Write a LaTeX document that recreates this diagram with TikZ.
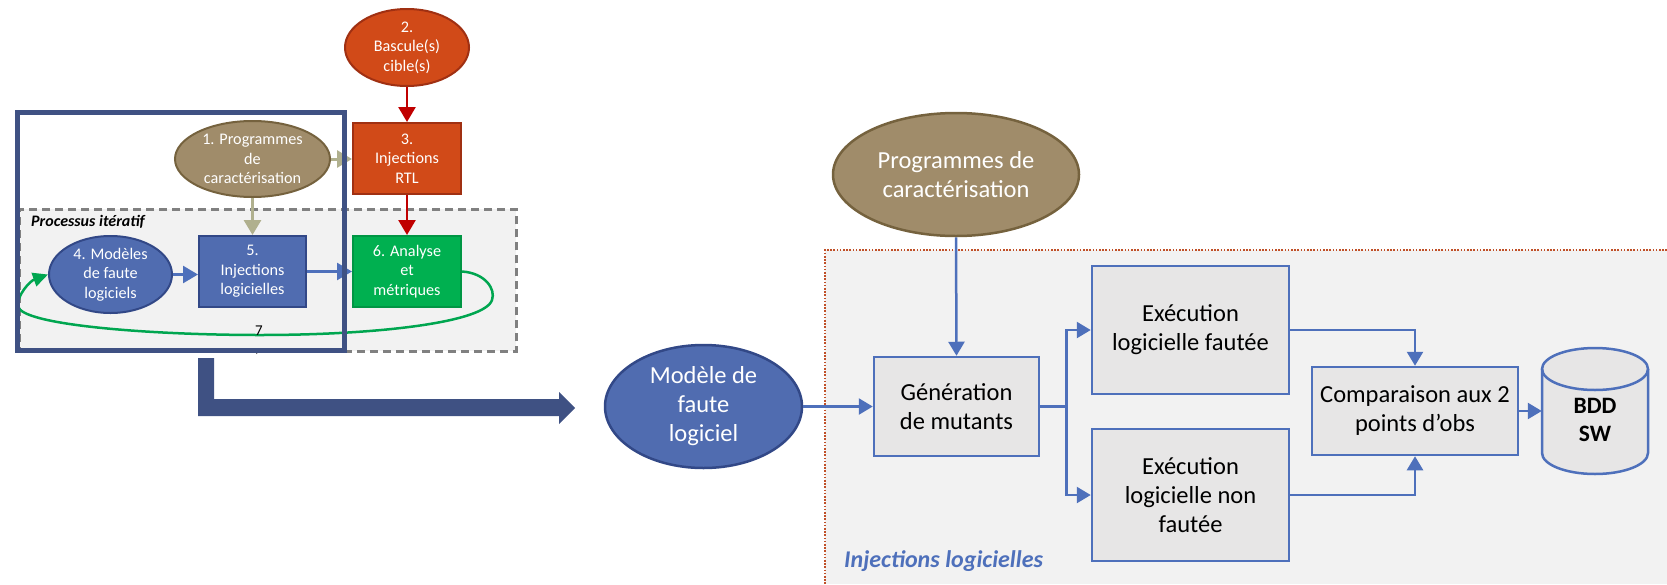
\documentclass[tikz,border=0pt]{standalone}
\usepackage{fontspec}
\setmainfont{Carlito}
\usetikzlibrary{arrows.meta,shapes.geometric,calc}

\definecolor{tanfill}{RGB}{160,140,106}
\definecolor{tanline}{RGB}{117,98,62}
\definecolor{tanarrow}{RGB}{176,176,142}
\definecolor{rustfill}{RGB}{209,74,24}
\definecolor{rustline}{RGB}{160,48,18}
\definecolor{redarrow}{RGB}{192,0,0}
\definecolor{bluefill}{RGB}{80,108,176}
\definecolor{blueline}{RGB}{50,72,135}
\definecolor{greenfill}{RGB}{0,176,80}
\definecolor{greenline}{RGB}{0,150,68}
\definecolor{loopgreen}{RGB}{0,166,80}
\definecolor{navy}{RGB}{63,81,131}
\definecolor{panel}{RGB}{242,242,242}
\definecolor{dashgrey}{RGB}{128,128,128}
\definecolor{boxgrey}{RGB}{231,230,230}
\definecolor{swblue}{RGB}{78,112,187}
\definecolor{dotred}{RGB}{192,80,40}

\newcommand{\lefttxt}{\fontsize{16.2}{19.5}\selectfont}
\newcommand{\righttxt}{\fontsize{24.5}{29}\selectfont}

\begin{document}
\begin{tikzpicture}[x=1pt,y=-1pt,
  whitesmall/.style={font=\lefttxt, text=white, align=center},
  whitebig/.style={font=\righttxt, text=white, align=center},
  smallell/.style={ellipse, draw, line width=2pt, inner sep=0pt},
  smallbox/.style={rectangle, draw, line width=2pt, inner sep=0pt,
    align=center, font=\lefttxt, text=white,
    minimum width=108pt, minimum height=71pt},
  bigell/.style={ellipse, draw, line width=2.5pt, inner sep=0pt},
  rbox/.style={rectangle, draw=swblue, fill=boxgrey, line width=2.5pt,
    inner sep=0pt, align=center, font=\righttxt},
  redcon/.style={draw=redarrow, line width=2.6pt,
    -{Triangle[length=15pt,width=17pt]}},
  tancon/.style={draw=tanarrow, line width=3pt,
    -{Triangle[length=15pt,width=17pt]}},
  bluecon/.style={draw=swblue, line width=2.6pt,
    -{Triangle[length=15pt,width=17pt]}},
  swcon/.style={draw=swblue, line width=2.5pt,
    -{Triangle[length=14pt,width=16pt]}},
  plain/.style={draw=swblue, line width=2.5pt}
]
\useasboundingbox (0,0) rectangle (1667,584);

% ---------- iterative flow (left) ----------
\node[anchor=north west, inner sep=0pt, fill=panel, draw=dashgrey,
      line width=2.5pt, dash pattern=on 8pt off 5pt,
      minimum width=497pt, minimum height=142pt] (iter) at (18,208) {};
\node[anchor=west, inner sep=0pt,
      font=\fontsize{16}{18}\selectfont\bfseries\itshape] (iterlbl)
      at (31,222) {Processus itératif};

\node[smallell, fill=rustfill, draw=rustline, minimum width=124pt,
      minimum height=77pt,
      label={[whitesmall]center:{2.\\Bascule(s)\\cible(s)}}] (n2) at (407,47.5) {};
\node[smallbox, fill=rustfill, draw=rustline] (n3) at (407,158.5)
      {3.\\Injections\\RTL};
\node[smallell, fill=tanfill, draw=tanline, minimum width=155pt,
      minimum height=76pt,
      label={[whitesmall]center:{1. Programmes\\de\\caractérisation}}] (n1) at (252.5,159) {};
\node[smallell, fill=bluefill, draw=blueline, minimum width=123pt,
      minimum height=77pt,
      label={[whitesmall]center:{4. Modèles\\de faute\\logiciels}}] (n4) at (110.5,274.5) {};
\node[smallbox, fill=bluefill, draw=blueline, minimum width=107pt] (n5)
      at (252.5,271.5) {5.\\Injections\\logicielles};
\node[smallbox, fill=greenfill, draw=greenline] (n6) at (407,271.5)
      {6. Analyse\\et\\métriques};

\draw[redcon] (n2.south) -- (n3.north);
\draw[redcon] (n3.south) -- (n6.north);
\draw[tancon] (n1.east) -- (n1.east -| n3.west);
\draw[tancon] (n1.south) -- (n5.north);
\draw[bluecon] (n4.east) -- (n4.east -| n5.west);
\draw[bluecon] (n5.east) -- (n6.west);

% feedback loop 7
\draw[draw=loopgreen, line width=2.5pt, -{Triangle[length=15pt,width=14pt]}]
  (n6.east) .. controls (485,273) and (496,289) .. (492,300)
  .. controls (485,322) and (380,335) .. (260,335)
  .. controls (150,335) and (20,325) .. (18,306)
  .. controls (17,295) and (30,281) .. (n4.west);
\node[font=\fontsize{15}{17}\selectfont, inner sep=0pt] (seven) at (259,331) {7};
\node[font=\fontsize{8}{8}\selectfont, inner sep=0pt] (tick) at (257,354) {.};

% selection frame
\node[anchor=north west, inner sep=0pt, draw=navy, line width=5pt,
      minimum width=327pt, minimum height=238pt] (frame) at (14.5,109.5) {};

% bent block arrow
\fill[navy] (198,358) -- (214,358) -- (214,399) -- (559,399) -- (559,392)
  -- (575,408) -- (559,424) -- (559,416) -- (198,416) -- cycle;

% ---------- software injection detail (right) ----------
\fill[panel] (825,250) rectangle (1667,584);
\draw[dotred, line width=1.6pt, dash pattern=on 1.6pt off 1.6pt]
  (825,584) -- (825,250) -- (1667,250);
\node[anchor=west, inner sep=0pt, text=swblue,
      font=\fontsize{24}{28}\selectfont\bfseries\itshape] (injlbl)
      at (844,561) {Injections logicielles};

\node[bigell, fill=tanfill, draw=tanline, minimum width=246pt,
      minimum height=123pt,
      label={[whitebig]center:{Programmes de\\caractérisation}}] (pc) at (956,174.5) {};
\node[bigell, fill=bluefill, draw=blueline, minimum width=197pt,
      minimum height=123pt,
      label={[whitebig]center:{Modèle de\\faute\\logiciel}}] (mf) at (703.5,406.5) {};

\node[rbox, minimum width=165pt, minimum height=99pt] (gen) at (956.5,406.5)
      {Génération\\de mutants};
\node[rbox, minimum width=197pt, minimum height=128pt] (ef) at (1190.5,330)
      {Exécution\\logicielle fautée};
\node[rbox, minimum width=197pt, minimum height=132pt] (enf) at (1190.5,495)
      {Exécution\\logicielle non\\fautée};
\node[rbox, minimum width=206pt, minimum height=88pt] (cmp) at (1415,411)
      {Comparaison aux 2\\points d’obs};

% database cylinder: body first, then its label node on top
\fill[boxgrey] (1542,453) arc[start angle=180, end angle=360, x radius=53pt, y radius=21pt]
  -- (1648,369) arc[start angle=0, end angle=180, x radius=53pt, y radius=21pt] -- cycle;
\draw[swblue, line width=2.5pt]
  (1542,369) -- (1542,453) arc[start angle=180, end angle=360, x radius=53pt, y radius=21pt]
  -- (1648,369);
\draw[swblue, line width=2.5pt] (1595,369) ellipse [x radius=53pt, y radius=21pt];
\node[inner sep=0pt, minimum width=106pt, minimum height=126pt,
      label={[font=\fontsize{23.5}{28}\selectfont\bfseries, align=center,
              yshift=-9pt]center:{BDD\\SW}}] (bdd) at (1595,411) {};

% connectors
\coordinate (split) at ($(gen.east)+(26,0)$);
\draw[swcon] (pc.south) -- (gen.north);
\draw[swcon] (mf.east) -- (gen.west);
\draw[plain] (gen.east) -- (split);
\draw[swcon] (split) |- (ef.west);
\draw[swcon] (split) |- (enf.west);
\draw[swcon] (ef.east) -| (cmp.north);
\draw[swcon] (enf.east) -| (cmp.south);
\draw[swcon] (cmp.east) -- (cmp.east -| bdd.west);
\end{tikzpicture}
\end{document}
